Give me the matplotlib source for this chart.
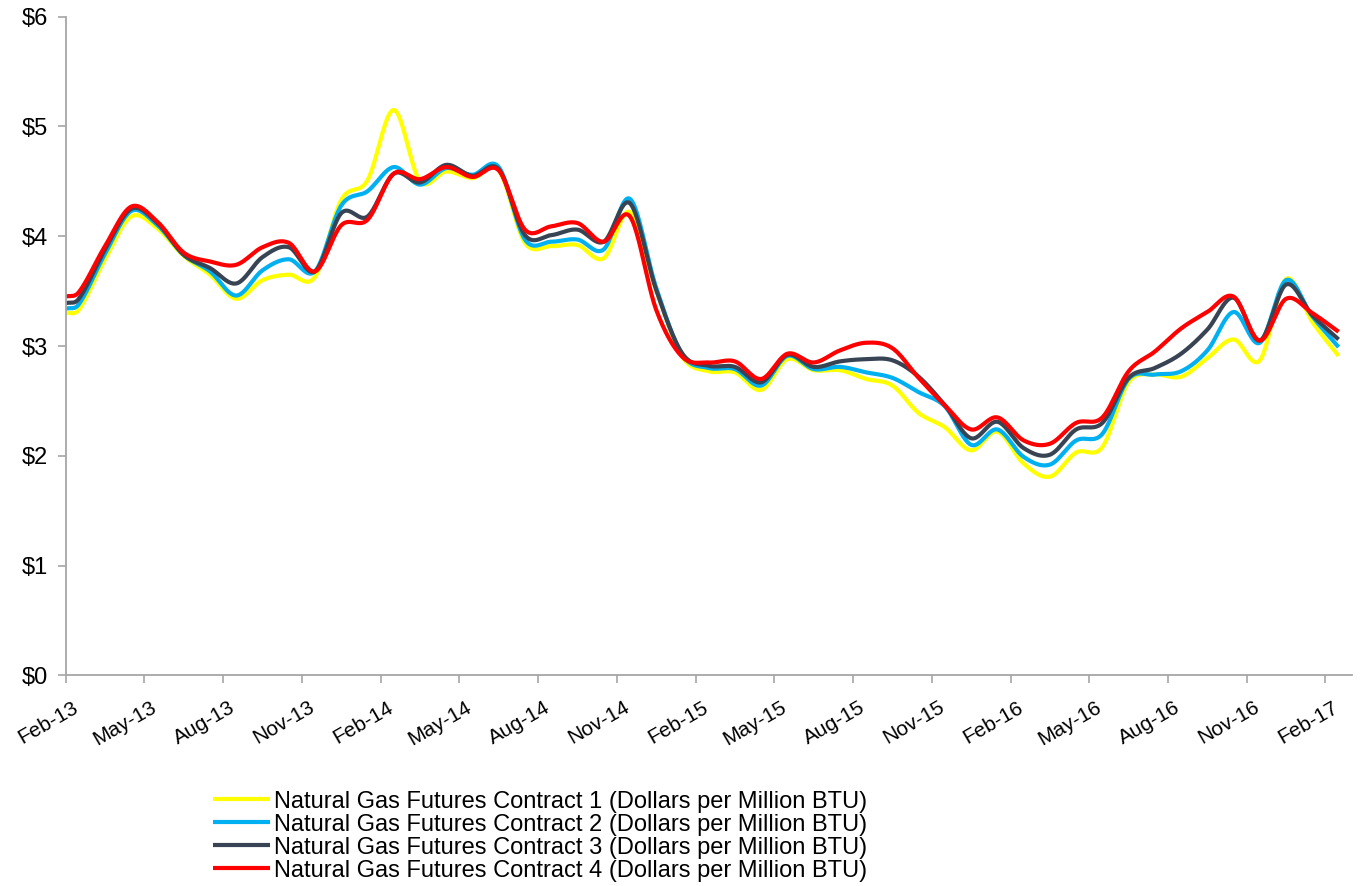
import numpy as np
import matplotlib
matplotlib.use("Agg")
import matplotlib.pyplot as plt
from matplotlib.transforms import ScaledTranslation

plt.rcParams['font.family'] = ['Liberation Sans', 'DejaVu Sans']

# Observation positions, in months after 1 Feb 2013 (series start, then mid-month readings)
months = [0.0] + [k + 0.5 for k in range(49)]

contract_1 = [3.30, 3.33, 3.79, 4.18, 4.07, 3.82, 3.65, 3.43, 3.60, 3.65, 3.63,
              4.33, 4.51, 5.15, 4.50, 4.59, 4.53, 4.60, 3.94, 3.91, 3.92,
              3.80, 4.22, 3.51, 2.90, 2.77, 2.76, 2.60, 2.88, 2.78, 2.78,
              2.70, 2.64, 2.39, 2.26, 2.05, 2.22, 1.93, 1.81, 2.03, 2.08,
              2.67, 2.74, 2.72, 2.89, 3.06, 2.87, 3.61, 3.22, 2.91]
contract_2 = [3.34, 3.38, 3.84, 4.23, 4.10, 3.83, 3.68, 3.46, 3.69, 3.79, 3.68,
              4.28, 4.41, 4.63, 4.47, 4.62, 4.56, 4.63, 3.97, 3.95, 3.97,
              3.88, 4.34, 3.53, 2.92, 2.80, 2.79, 2.64, 2.91, 2.79, 2.81,
              2.76, 2.71, 2.58, 2.45, 2.10, 2.24, 1.99, 1.92, 2.14, 2.20,
              2.70, 2.74, 2.77, 2.96, 3.31, 3.03, 3.60, 3.27, 2.99]
contract_3 = [3.39, 3.43, 3.88, 4.25, 4.12, 3.83, 3.71, 3.57, 3.81, 3.90, 3.68,
              4.21, 4.18, 4.57, 4.49, 4.65, 4.55, 4.61, 4.01, 4.01, 4.06,
              3.95, 4.30, 3.51, 2.93, 2.82, 2.81, 2.67, 2.92, 2.81, 2.86,
              2.88, 2.87, 2.72, 2.46, 2.16, 2.31, 2.07, 2.01, 2.24, 2.30,
              2.71, 2.80, 2.93, 3.15, 3.44, 3.05, 3.56, 3.28, 3.06]
contract_4 = [3.45, 3.49, 3.91, 4.27, 4.13, 3.85, 3.77, 3.74, 3.90, 3.94, 3.68,
              4.10, 4.15, 4.57, 4.52, 4.63, 4.54, 4.60, 4.06, 4.09, 4.12,
              3.95, 4.18, 3.33, 2.90, 2.85, 2.86, 2.70, 2.93, 2.85, 2.96,
              3.03, 2.98, 2.71, 2.46, 2.24, 2.35, 2.14, 2.11, 2.30, 2.35,
              2.77, 2.95, 3.16, 3.31, 3.45, 3.05, 3.43, 3.30, 3.13]

series_labels = [f"Natural Gas Futures Contract {i} (Dollars per Million BTU)" for i in range(1, 5)]
series_colors = ['#FFFF00', '#00B0F0', '#384454', '#FF0000']

tick_months = list(range(0, 49, 3))
tick_labels = ['Feb-13', 'May-13', 'Aug-13', 'Nov-13', 'Feb-14', 'May-14', 'Aug-14',
               'Nov-14', 'Feb-15', 'May-15', 'Aug-15', 'Nov-15', 'Feb-16', 'May-16',
               'Aug-16', 'Nov-16', 'Feb-17']
y_ticks = [0, 1, 2, 3, 4, 5, 6]


def smooth_curve(x, y, per_seg=24):
    """Cubic Hermite curve through every point (smoothed line rendering)."""
    x = np.asarray(x, float)
    y = np.asarray(y, float)
    n = len(x)
    m = np.empty(n)
    m[0] = (y[1] - y[0]) / (x[1] - x[0])
    m[-1] = (y[-1] - y[-2]) / (x[-1] - x[-2])
    m[1:-1] = (y[2:] - y[:-2]) / (x[2:] - x[:-2])
    xs, ys = [], []
    for i in range(n - 1):
        h = x[i + 1] - x[i]
        t = np.linspace(0, 1, per_seg, endpoint=(i == n - 2))
        h00 = 2 * t**3 - 3 * t**2 + 1
        h10 = t**3 - 2 * t**2 + t
        h01 = -2 * t**3 + 3 * t**2
        h11 = t**3 - t**2
        xs.append(x[i] + t * h)
        ys.append(h00 * y[i] + h10 * h * m[i] + h01 * y[i + 1] + h11 * h * m[i + 1])
    return np.concatenate(xs), np.concatenate(ys)


fig = plt.figure(figsize=(13.6, 8.86), dpi=100)
ax = fig.add_axes([0.0483, 0.2377, 0.9456, 0.7435])

for vals, col, lab in zip([contract_1, contract_2, contract_3, contract_4],
                          series_colors, series_labels):
    sx, sy = smooth_curve(months, vals)
    ax.plot(sx, sy, color=col, lw=3.0, label=lab, solid_capstyle='butt')

ax.set_xlim(0, 49)
ax.set_ylim(0, 6)
ax.set_yticks(y_ticks)
ax.set_yticklabels([f"${v}" for v in y_ticks])
ax.set_xticks(tick_months)
ax.set_xticklabels(tick_labels, rotation=30, ha='right', rotation_mode='anchor')

for side in ('top', 'right'):
    ax.spines[side].set_visible(False)
for side in ('left', 'bottom'):
    ax.spines[side].set_color('#A6A6A6')
    ax.spines[side].set_linewidth(1.3)
ax.tick_params(axis='both', colors='#A6A6A6', labelcolor='black',
               length=6, width=1.2, direction='out')
ax.tick_params(axis='y', labelsize=17, pad=7)
ax.tick_params(axis='x', labelsize=15, pad=10)

# nudge the slanted month labels so their ends sit just right of each tick
shift = ScaledTranslation(6 / 100, 0, fig.dpi_scale_trans)
for lbl in ax.get_xticklabels():
    lbl.set_transform(lbl.get_transform() + shift)

handles, labels = ax.get_legend_handles_labels()
fig.legend(handles, labels, loc='upper left', bbox_to_anchor=(0.1566, 0.1075),
           frameon=False, fontsize=17, handlelength=2.4, handletextpad=0.17,
           labelspacing=0.04, borderpad=0, borderaxespad=0)

fig.savefig('out.png', dpi=100)
